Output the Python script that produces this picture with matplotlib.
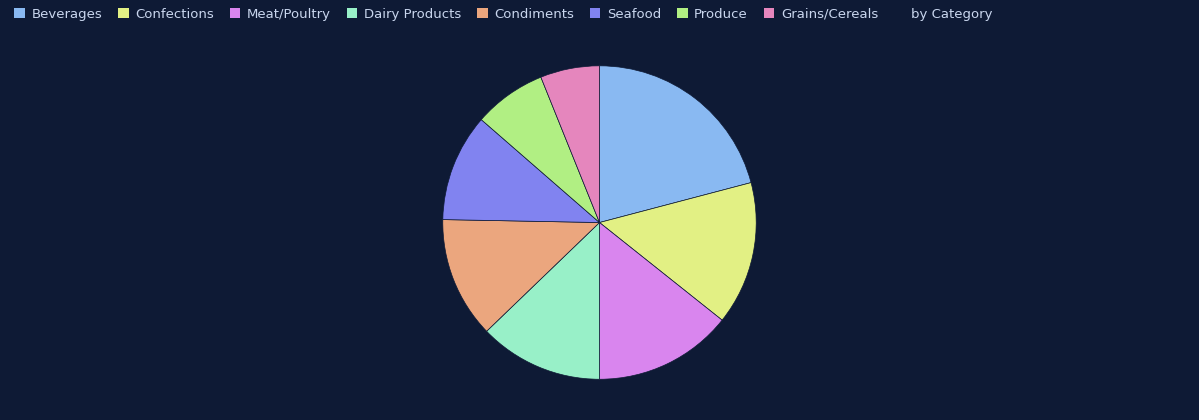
import matplotlib.pyplot as plt
from matplotlib.patches import Patch

categories = ["Beverages", "Confections", "Meat/Poultry", "Dairy Products",
              "Condiments", "Seafood", "Produce", "Grains/Cereals"]
values = [20.9, 14.8, 14.3, 12.8, 12.5, 11.1, 7.5, 6.1]
colors = ["#89b9f2", "#e2f084", "#d985ee", "#98f0c8",
          "#eba67e", "#8183f0", "#b1ef83", "#e586bd"]
BG = "#0e1a35"

fig = plt.figure(figsize=(11.99, 4.20), dpi=100, facecolor=BG)
ax = fig.add_axes([0.0, 0.0, 1.0, 1.0])
ax.set_facecolor(BG)
ax.pie(values, colors=colors, startangle=90, counterclock=False,
       wedgeprops=dict(linewidth=0.5, edgecolor=BG))
ax.set_aspect("equal")
ax.set_xlim(-3.82, 3.82)
ax.set_ylim(-1.26, 1.42)

handles = [Patch(facecolor=c, edgecolor="none") for c in colors]
handles.append(Patch(facecolor="none", edgecolor="none"))
leg = fig.legend(handles, categories + ["by Category"], loc="upper left",
                 bbox_to_anchor=(0.002, 1.01), ncol=9, frameon=False,
                 fontsize=9.5, labelcolor="#c9d6ee", handlelength=0.8,
                 handleheight=0.8, handletextpad=0.5, columnspacing=1.2)
leg.legend_handles[-1].set_visible(False)

fig.savefig("out.png", facecolor=BG)
